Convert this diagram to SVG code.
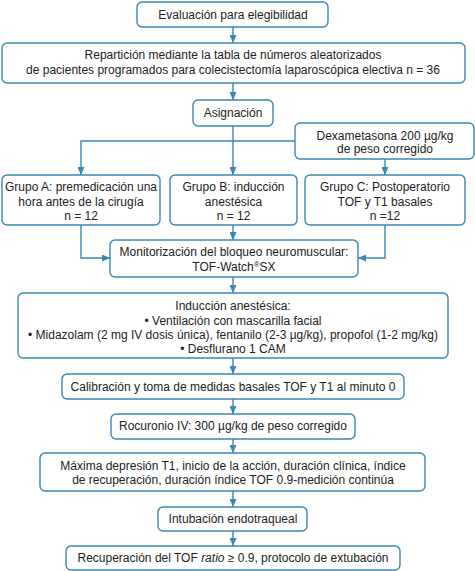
<svg xmlns="http://www.w3.org/2000/svg" width="475" height="571" viewBox="0 0 475 571">
<defs>
<style>
.b{fill:#fff;stroke:#3d86b2;stroke-width:1.4}
.t{font-family:"Liberation Sans",Arial,sans-serif;font-size:12px;fill:#222;text-anchor:middle}
.c{fill:none;stroke:#3d86b2;stroke-width:1.4}
</style>
<marker id="ar" viewBox="0 0 8 7" refX="8" refY="3.5" markerWidth="8" markerHeight="7" markerUnits="userSpaceOnUse" orient="auto">
<path d="M0,0 L8,3.5 L0,7 Z" fill="#3d86b2"/>
</marker>
</defs>
<rect width="475" height="571" fill="#fff"/>
<g id="connectors">
<path class="c" d="M233,27 V43" marker-end="url(#ar)"/>
<path class="c" d="M233,83 V100" marker-end="url(#ar)"/>
<path class="c" d="M233,126 V175" marker-end="url(#ar)"/>
<path class="c" d="M295,141 H81 V175" marker-end="url(#ar)"/>
<path class="c" d="M385,159 V175" marker-end="url(#ar)"/>
<path class="c" d="M81,225 V258 H110" marker-end="url(#ar)"/>
<path class="c" d="M233,225 V240" marker-end="url(#ar)"/>
<path class="c" d="M385,225 V258 H358" marker-end="url(#ar)"/>
<path class="c" d="M233,277 V293" marker-end="url(#ar)"/>
<path class="c" d="M233,358 V374" marker-end="url(#ar)"/>
<path class="c" d="M233,399 V414" marker-end="url(#ar)"/>
<path class="c" d="M233,439 V453" marker-end="url(#ar)"/>
<path class="c" d="M233,491 V507" marker-end="url(#ar)"/>
<path class="c" d="M233,531 V546" marker-end="url(#ar)"/>
</g>
<g id="n1"><rect class="b" x="137" y="2" width="191" height="25" rx="5"/>
<text class="t" x="233" y="19">Evaluación para elegibilidad</text></g>
<g id="n2"><rect class="b" x="2" y="43" width="463" height="40" rx="5"/>
<text class="t" x="233" y="59">Repartición mediante la tabla de números aleatorizados</text>
<text class="t" x="233" y="74">de pacientes programados para colecistectomía laparoscópica electiva n = 36</text></g>
<g id="n3"><rect class="b" x="193" y="100" width="80" height="26" rx="5"/>
<text class="t" x="233" y="117">Asignación</text></g>
<g id="n4"><rect class="b" x="295" y="123" width="179" height="36" rx="5"/>
<text class="t" x="385" y="140">Dexametasona 200 µg/kg</text>
<text class="t" x="385" y="153">de peso corregido</text></g>
<g id="nA"><rect class="b" x="2" y="175" width="158" height="50" rx="5"/>
<text class="t" x="81" y="191">Grupo A: premedicación una</text>
<text class="t" x="81" y="205.5">hora antes de la cirugía</text>
<text class="t" x="81" y="220">n = 12</text></g>
<g id="nB"><rect class="b" x="170" y="175" width="127" height="50" rx="5"/>
<text class="t" x="233.5" y="191">Grupo B: inducción</text>
<text class="t" x="233.5" y="205.5">anestésica</text>
<text class="t" x="233.5" y="220">n = 12</text></g>
<g id="nC"><rect class="b" x="305" y="175" width="160" height="50" rx="5"/>
<text class="t" x="385" y="191">Grupo C: Postoperatorio</text>
<text class="t" x="385" y="205.5">TOF y T1 basales</text>
<text class="t" x="385" y="220">n =12</text></g>
<g id="n5"><rect class="b" x="110" y="240" width="248" height="37" rx="5"/>
<text class="t" x="234" y="256">Monitorización del bloqueo neuromuscular:</text>
<text class="t" x="234" y="271">TOF-Watch<tspan font-size="8" dy="-4">®</tspan><tspan dy="4">SX</tspan></text></g>
<g id="n6"><rect class="b" x="18" y="293" width="430" height="65" rx="5"/>
<text class="t" x="233" y="310">Inducción anestésica:</text>
<text class="t" x="233" y="324.5">• Ventilación con mascarilla facial</text>
<text class="t" x="233" y="339">• Midazolam (2 mg IV dosis única), fentanilo (2-3 µg/kg), propofol (1-2 mg/kg)</text>
<text class="t" x="233" y="353">• Desflurano 1 CAM</text></g>
<g id="n7"><rect class="b" x="62" y="374" width="342" height="25" rx="5"/>
<text class="t" x="233" y="391">Calibración y toma de medidas basales TOF y T1 al minuto 0</text></g>
<g id="n8"><rect class="b" x="111" y="414" width="244" height="25" rx="5"/>
<text class="t" x="233" y="430">Rocuronio IV: 300 µg/kg de peso corregido</text></g>
<g id="n9"><rect class="b" x="40" y="453" width="385" height="38" rx="5"/>
<text class="t" x="233" y="470">Máxima depresión T1, inicio de la acción, duración clínica, índice</text>
<text class="t" x="233" y="484">de recuperación, duración índice TOF 0.9-medición continúa</text></g>
<g id="n10"><rect class="b" x="158" y="507" width="149" height="24" rx="5"/>
<text class="t" x="233" y="523">Intubación endotraqueal</text></g>
<g id="n11"><rect class="b" x="66" y="546" width="334" height="24" rx="5"/>
<text class="t" x="233" y="562">Recuperación del TOF <tspan font-style="italic">ratio</tspan> ≥ 0.9, protocolo de extubación</text></g>
</svg>
